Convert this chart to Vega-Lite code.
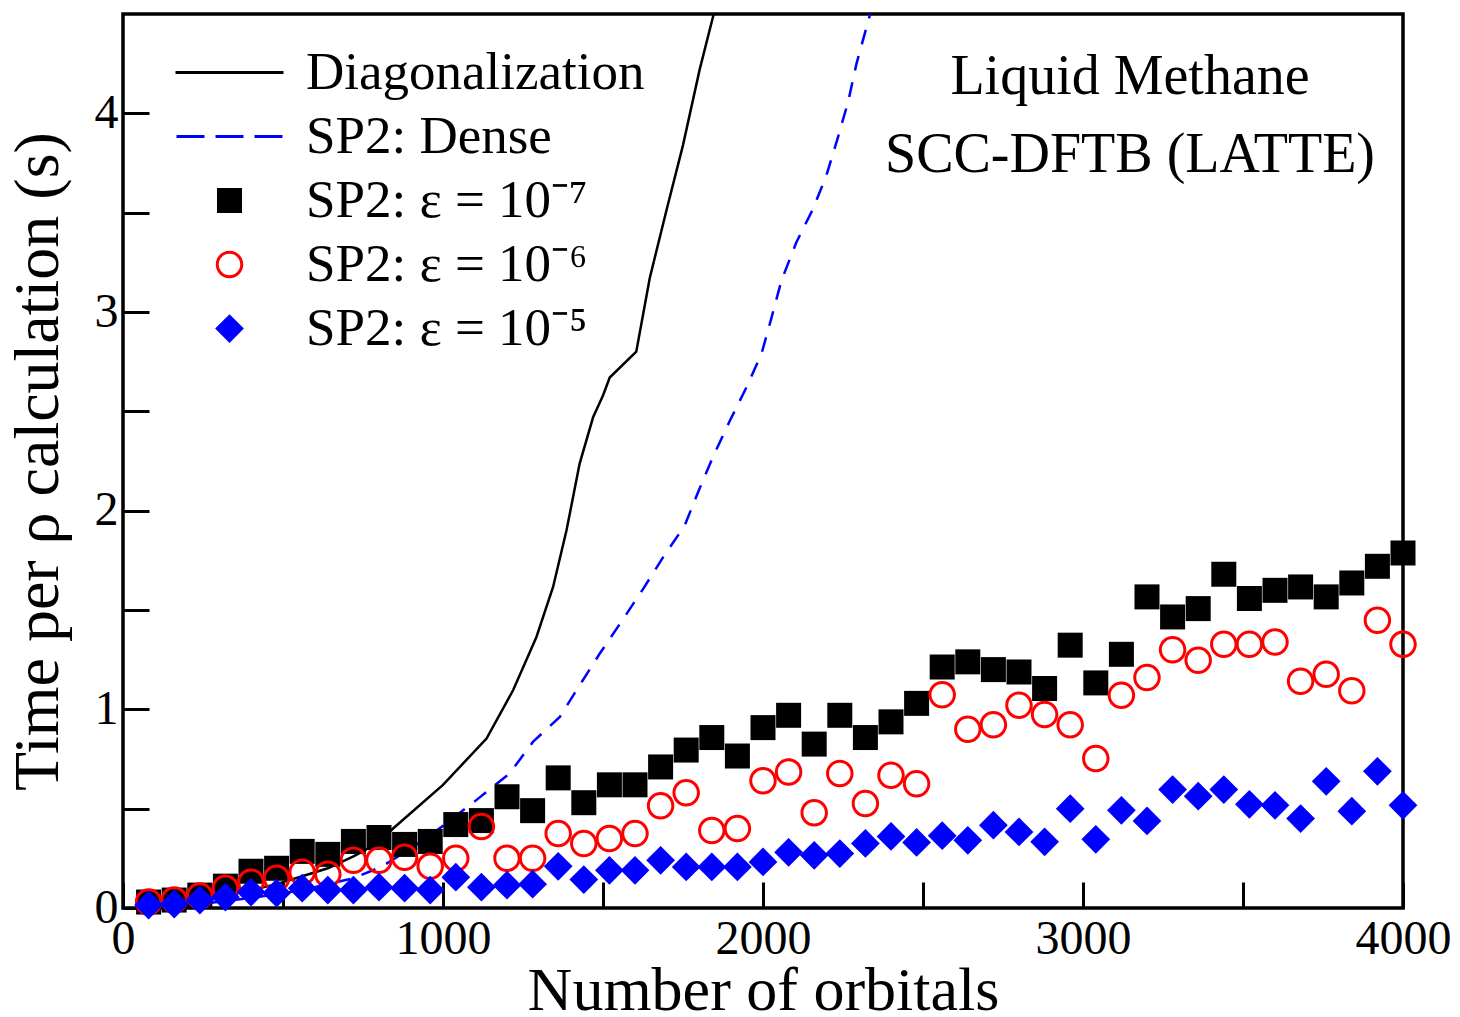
{
  "$schema": "https://vega.github.io/schema/vega-lite/v6.json",
  "width": 1280,
  "height": 894,
  "autosize": "none",
  "padding": {"left": 123, "top": 14, "right": 57, "bottom": 109},
  "background": "white",
  "config": {
    "view": {"stroke": "black", "strokeWidth": 3.5},
    "font": "Liberation Serif",
    "axis": {
      "domain": false, "grid": false, "ticks": true, "tickColor": "black", "tickWidth": 3, "tickSize": -26,
      "labelFont": "Liberation Serif", "labelFontSize": 48, "labelColor": "black", "labelFlush": false, "labelOverlap": false,
      "titleFont": "Liberation Serif", "titleFontSize": 64, "titleFontWeight": "normal", "titleColor": "black"
    },
    "axisX": {"labelPadding": 33, "titlePadding": -3, "titleFontSize": 62},
    "axisY": {"labelPadding": 31, "titlePadding": 24}
  },
  "title": {
    "text": "Liquid Methane", "subtitle": "SCC-DFTB (LATTE)", "orient": "top", "anchor": "start", "align": "center",
    "frame": "group", "dx": 1007, "dy": 170, "offset": 0,
    "font": "Liberation Serif", "fontSize": 56, "fontWeight": "normal", "color": "black",
    "subtitleFont": "Liberation Serif", "subtitleFontSize": 56, "subtitleColor": "black", "subtitlePadding": 22
  },
  "datasets": {
    "diag": [
      {"n": 80, "t": 0.01, "series": "diag"},
      {"n": 160, "t": 0.02, "series": "diag"},
      {"n": 240, "t": 0.035, "series": "diag"},
      {"n": 320, "t": 0.06, "series": "diag"},
      {"n": 400, "t": 0.09, "series": "diag"},
      {"n": 480, "t": 0.12, "series": "diag"},
      {"n": 560, "t": 0.16, "series": "diag"},
      {"n": 640, "t": 0.2, "series": "diag"},
      {"n": 720, "t": 0.26, "series": "diag"},
      {"n": 800, "t": 0.33, "series": "diag"},
      {"n": 844, "t": 0.4, "series": "diag"},
      {"n": 1000, "t": 0.62, "series": "diag"},
      {"n": 1136, "t": 0.853, "series": "diag"},
      {"n": 1219, "t": 1.096, "series": "diag"},
      {"n": 1292, "t": 1.364, "series": "diag"},
      {"n": 1344, "t": 1.616, "series": "diag"},
      {"n": 1386, "t": 1.901, "series": "diag"},
      {"n": 1427, "t": 2.237, "series": "diag"},
      {"n": 1469, "t": 2.47, "series": "diag"},
      {"n": 1500, "t": 2.58, "series": "diag"},
      {"n": 1521, "t": 2.67, "series": "diag"},
      {"n": 1604, "t": 2.8, "series": "diag"},
      {"n": 1646, "t": 3.17, "series": "diag"},
      {"n": 1698, "t": 3.51, "series": "diag"},
      {"n": 1750, "t": 3.84, "series": "diag"},
      {"n": 1802, "t": 4.22, "series": "diag"},
      {"n": 1846, "t": 4.5, "series": "diag"},
      {"n": 1880, "t": 4.75, "series": "diag"}
    ],
    "dense": [
      {"n": 80, "t": 0.005, "series": "dense"},
      {"n": 240, "t": 0.02, "series": "dense"},
      {"n": 400, "t": 0.05, "series": "dense"},
      {"n": 560, "t": 0.09, "series": "dense"},
      {"n": 720, "t": 0.15, "series": "dense"},
      {"n": 807, "t": 0.207, "series": "dense"},
      {"n": 900, "t": 0.3, "series": "dense"},
      {"n": 995, "t": 0.408, "series": "dense"},
      {"n": 1104, "t": 0.543, "series": "dense"},
      {"n": 1208, "t": 0.677, "series": "dense"},
      {"n": 1281, "t": 0.836, "series": "dense"},
      {"n": 1365, "t": 0.962, "series": "dense"},
      {"n": 1427, "t": 1.121, "series": "dense"},
      {"n": 1490, "t": 1.281, "series": "dense"},
      {"n": 1557, "t": 1.44, "series": "dense"},
      {"n": 1625, "t": 1.605, "series": "dense"},
      {"n": 1688, "t": 1.766, "series": "dense"},
      {"n": 1755, "t": 1.924, "series": "dense"},
      {"n": 1797, "t": 2.093, "series": "dense"},
      {"n": 1844, "t": 2.272, "series": "dense"},
      {"n": 1896, "t": 2.451, "series": "dense"},
      {"n": 1948, "t": 2.62, "series": "dense"},
      {"n": 1995, "t": 2.788, "series": "dense"},
      {"n": 2026, "t": 2.968, "series": "dense"},
      {"n": 2058, "t": 3.16, "series": "dense"},
      {"n": 2104, "t": 3.35, "series": "dense"},
      {"n": 2156, "t": 3.518, "series": "dense"},
      {"n": 2198, "t": 3.687, "series": "dense"},
      {"n": 2234, "t": 3.878, "series": "dense"},
      {"n": 2266, "t": 4.058, "series": "dense"},
      {"n": 2292, "t": 4.249, "series": "dense"},
      {"n": 2323, "t": 4.43, "series": "dense"},
      {"n": 2360, "t": 4.65, "series": "dense"}
    ],
    "sp2": [
      {"n": 80, "e7": 0.03, "e6": 0.03, "e5": 0.015},
      {"n": 160, "e7": 0.04, "e6": 0.04, "e5": 0.02},
      {"n": 240, "e7": 0.065, "e6": 0.06, "e5": 0.04},
      {"n": 320, "e7": 0.11, "e6": 0.1, "e5": 0.055},
      {"n": 400, "e7": 0.185, "e6": 0.13, "e5": 0.08},
      {"n": 480, "e7": 0.2, "e6": 0.15, "e5": 0.075},
      {"n": 560, "e7": 0.285, "e6": 0.18, "e5": 0.1},
      {"n": 640, "e7": 0.27, "e6": 0.17, "e5": 0.09},
      {"n": 720, "e7": 0.335, "e6": 0.24, "e5": 0.09},
      {"n": 800, "e7": 0.355, "e6": 0.24, "e5": 0.105},
      {"n": 880, "e7": 0.32, "e6": 0.255, "e5": 0.1},
      {"n": 960, "e7": 0.335, "e6": 0.21, "e5": 0.09},
      {"n": 1040, "e7": 0.42, "e6": 0.25, "e5": 0.155},
      {"n": 1120, "e7": 0.44, "e6": 0.41, "e5": 0.105},
      {"n": 1200, "e7": 0.56, "e6": 0.25, "e5": 0.115},
      {"n": 1280, "e7": 0.49, "e6": 0.25, "e5": 0.12},
      {"n": 1360, "e7": 0.655, "e6": 0.375, "e5": 0.21},
      {"n": 1440, "e7": 0.53, "e6": 0.325, "e5": 0.143},
      {"n": 1520, "e7": 0.62, "e6": 0.35, "e5": 0.19},
      {"n": 1600, "e7": 0.62, "e6": 0.375, "e5": 0.19},
      {"n": 1680, "e7": 0.71, "e6": 0.515, "e5": 0.24},
      {"n": 1760, "e7": 0.795, "e6": 0.58, "e5": 0.207},
      {"n": 1840, "e7": 0.858, "e6": 0.39, "e5": 0.207},
      {"n": 1920, "e7": 0.765, "e6": 0.4, "e5": 0.207},
      {"n": 2000, "e7": 0.908, "e6": 0.64, "e5": 0.232},
      {"n": 2080, "e7": 0.97, "e6": 0.685, "e5": 0.28},
      {"n": 2160, "e7": 0.825, "e6": 0.48, "e5": 0.265},
      {"n": 2240, "e7": 0.97, "e6": 0.677, "e5": 0.274},
      {"n": 2320, "e7": 0.858, "e6": 0.526, "e5": 0.325},
      {"n": 2400, "e7": 0.937, "e6": 0.668, "e5": 0.36},
      {"n": 2480, "e7": 1.03, "e6": 0.626, "e5": 0.33},
      {"n": 2560, "e7": 1.213, "e6": 1.074, "e5": 0.364},
      {"n": 2640, "e7": 1.239, "e6": 0.9, "e5": 0.341},
      {"n": 2720, "e7": 1.2, "e6": 0.923, "e5": 0.417},
      {"n": 2800, "e7": 1.188, "e6": 1.021, "e5": 0.383},
      {"n": 2880, "e7": 1.105, "e6": 0.974, "e5": 0.333},
      {"n": 2960, "e7": 1.323, "e6": 0.923, "e5": 0.5},
      {"n": 3040, "e7": 1.133, "e6": 0.752, "e5": 0.346},
      {"n": 3120, "e7": 1.277, "e6": 1.071, "e5": 0.492},
      {"n": 3200, "e7": 1.566, "e6": 1.16, "e5": 0.438},
      {"n": 3280, "e7": 1.465, "e6": 1.3, "e5": 0.596},
      {"n": 3360, "e7": 1.507, "e6": 1.247, "e5": 0.563},
      {"n": 3440, "e7": 1.68, "e6": 1.328, "e5": 0.596},
      {"n": 3520, "e7": 1.558, "e6": 1.328, "e5": 0.522},
      {"n": 3600, "e7": 1.599, "e6": 1.339, "e5": 0.517},
      {"n": 3680, "e7": 1.616, "e6": 1.141, "e5": 0.45},
      {"n": 3760, "e7": 1.566, "e6": 1.177, "e5": 0.638},
      {"n": 3840, "e7": 1.636, "e6": 1.093, "e5": 0.487},
      {"n": 3920, "e7": 1.72, "e6": 1.448, "e5": 0.688},
      {"n": 4000, "e7": 1.787, "e6": 1.328, "e5": 0.517}
    ]
  },
  "layer": [
    {
      "data": {"name": "diag"},
      "mark": {"type": "line", "strokeWidth": 2.5, "clip": true},
      "encoding": {
        "x": {
          "field": "n", "type": "quantitative", "title": "Number of orbitals",
          "scale": {"domain": [0, 4000], "nice": false, "zero": false},
          "axis": {
            "values": [0, 500, 1000, 1500, 2000, 2500, 3000, 3500, 4000], "format": "d",
            "labelExpr": "datum.value % 1000 === 0 ? datum.label : ''",
            "encode": {"ticks": {"update": {"y2": {"condition": {"test": "datum.value % 1000 !== 0", "value": -13}, "value": -26}}}}
          }
        },
        "y": {
          "field": "t", "type": "quantitative", "title": "Time per ρ calculation (s)",
          "scale": {"domain": [0, 4.5], "nice": false, "zero": true},
          "axis": {
            "values": [0, 0.5, 1, 1.5, 2, 2.5, 3, 3.5, 4], "format": ".0f",
            "labelExpr": "datum.value % 1 === 0 ? datum.label : ''",
            "encode": {"ticks": {"update": {"x2": {"condition": {"test": "datum.value % 1 !== 0", "value": 13}, "value": 26}}}}
          }
        },
        "color": {
          "field": "series", "type": "nominal",
          "scale": {"domain": ["diag", "dense", "e7", "e6", "e5"], "range": ["black", "#0000ff", "black", "#ff0000", "#0000ff"]}
        }
      }
    },
    {
      "data": {"name": "dense"},
      "mark": {"type": "line", "strokeWidth": 2.5, "clip": true, "strokeDash": [15, 12]},
      "encoding": {
        "x": {"field": "n", "type": "quantitative", "title": "Number of orbitals"},
        "y": {"field": "t", "type": "quantitative", "title": "Time per ρ calculation (s)"},
        "color": {"field": "series", "type": "nominal"}
      }
    },
    {
      "data": {"name": "sp2"},
      "transform": [{"fold": ["e7", "e6", "e5"], "as": ["series", "t"]}],
      "mark": {"type": "point", "filled": true, "size": 625, "opacity": 1, "strokeWidth": 0},
      "encoding": {
        "x": {"field": "n", "type": "quantitative", "title": "Number of orbitals"},
        "y": {"field": "t", "type": "quantitative", "title": "Time per ρ calculation (s)"},
        "order": {"field": "series", "sort": "descending"},
        "color": {
          "field": "series", "type": "nominal",
          "legend": {
            "orient": "none", "legendX": 80, "legendY": 32, "title": null, "direction": "vertical", "padding": 0,
            "labelFont": "Liberation Serif", "labelFontSize": 53, "labelColor": "black", "labelLimit": 800,
            "labelOffset": 50, "symbolSize": 625, "rowPadding": 10, "symbolStrokeWidth": 0, "symbolOpacity": 1,
            "labelExpr": "datum.value === 'diag' ? 'Diagonalization' : datum.value === 'dense' ? 'SP2: Dense' : datum.value === 'e7' ? 'SP2: ε = 10⁻⁷' : datum.value === 'e6' ? 'SP2: ε = 10⁻⁶' : 'SP2: ε = 10⁻⁵'"
          }
        },
        "shape": {
          "field": "series", "type": "nominal",
          "scale": {
            "domain": ["diag", "dense", "e7", "e6", "e5"],
            "range": [
              "M-4.32,-0.12H4.32V0.12H-4.32Z",
              "M-4.24,-0.12H-2V0.12H-4.24ZM-1.12,-0.12H1.12V0.12H-1.12ZM2,-0.12H4.24V0.12H2Z",
              "square",
              "M1.1,0A1.1,1.1,0,1,1,-1.1,0A1.1,1.1,0,1,1,1.1,0ZM0.86,0A0.86,0.86,0,1,0,-0.86,0A0.86,0.86,0,1,0,0.86,0Z",
              "M0,-1.15L1.15,0L0,1.15L-1.15,0Z"
            ]
          },
          "legend": {
            "orient": "none", "legendX": 80, "legendY": 32, "title": null, "direction": "vertical", "padding": 0,
            "labelFont": "Liberation Serif", "labelFontSize": 53, "labelColor": "black", "labelLimit": 800,
            "labelOffset": 50, "symbolSize": 625, "rowPadding": 10, "symbolStrokeWidth": 0, "symbolOpacity": 1,
            "labelExpr": "datum.value === 'diag' ? 'Diagonalization' : datum.value === 'dense' ? 'SP2: Dense' : datum.value === 'e7' ? 'SP2: ε = 10⁻⁷' : datum.value === 'e6' ? 'SP2: ε = 10⁻⁶' : 'SP2: ε = 10⁻⁵'"
          }
        }
      }
    }
  ]
}
